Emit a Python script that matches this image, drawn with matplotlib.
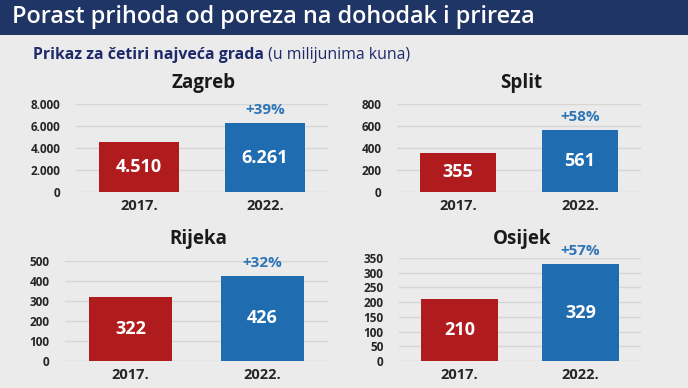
import matplotlib
matplotlib.use("Agg")
import matplotlib.pyplot as plt
from matplotlib.patches import Rectangle
from matplotlib.text import Annotation

plt.rcParams['font.family'] = ['Open Sans', 'DejaVu Sans']

title = "Porast prihoda od poreza na dohodak i prireza"
subtitle_bold = "Prikaz za četiri najveća grada"
subtitle_normal = " (u milijunima kuna)"

years = ["2017.", "2022."]
cities = ["Zagreb", "Split", "Rijeka", "Osijek"]
values_2017 = [4510, 355, 322, 210]
values_2022 = [6261, 561, 426, 329]
value_labels_2017 = ["4.510", "355", "322", "210"]
value_labels_2022 = ["6.261", "561", "426", "329"]
growth_labels = ["+39%", "+58%", "+32%", "+57%"]
zagreb_ticks = [0, 2000, 4000, 6000, 8000]
zagreb_ticklabels = ["0", "2.000", "4.000", "6.000", "8.000"]
split_ticks = [0, 200, 400, 600, 800]
rijeka_ticks = [0, 100, 200, 300, 400, 500]
osijek_ticks = [0, 50, 100, 150, 200, 250, 300, 350]

ticks = [zagreb_ticks, split_ticks, rijeka_ticks, osijek_ticks]
ticklabels = [zagreb_ticklabels, [str(t) for t in split_ticks],
              [str(t) for t in rijeka_ticks], [str(t) for t in osijek_ticks]]

W, H = 688, 388
BG = "#ebebeb"
NAVY = "#1f3566"
SUBNAVY = "#1f2a6b"
RED = "#b01c1e"
BLUE = "#1f6db0"
PCT = "#2e75b6"
TXT = "#262626"
GRID = "#d6d6d6"

fig = plt.figure(figsize=(W / 100, H / 100), dpi=100, facecolor=BG)

# title bar
fig.patches.append(Rectangle((0, 1 - 35 / H), 1, 35 / H, transform=fig.transFigure,
                             facecolor=NAVY, edgecolor="none", zorder=0))
fig.text(12 / W, 1 - 17 / H, title, color="white", fontsize=16.9,
         fontweight="semibold", va="center", ha="left")

t1 = fig.text(33 / W, 1 - 55 / H, subtitle_bold, color=SUBNAVY, fontsize=11.4,
              fontweight="bold", va="center", ha="left")
fig.add_artist(Annotation(subtitle_normal, xy=(1, 0.5), xycoords=t1, va="center",
                          ha="left", fontsize=11.4, color=SUBNAVY,
                          annotation_clip=False))

# axes boxes in pixels: left, right, top, bottom
boxes = [
    (76, 328, 104, 192),
    (397, 641, 104, 192),
    (65, 328, 261, 361),
    (399, 641, 258, 361),
]
title_y = [83, 83, 239, 239]

for i, city in enumerate(cities):
    l, r, t, b = boxes[i]
    ax = fig.add_axes([l / W, 1 - b / H, (r - l) / W, (b - t) / H])
    ax.set_facecolor("none")
    ymax = ticks[i][-1]
    ax.bar([0, 1], [values_2017[i], values_2022[i]], width=0.63,
           color=[RED, BLUE], zorder=3)
    ax.set_xlim(-0.5, 1.5)
    ax.set_ylim(0, ymax)
    ax.set_yticks(ticks[i])
    ax.set_yticklabels(ticklabels[i], fontsize=8.5, fontweight="bold", color=TXT)
    ax.set_xticks([0, 1])
    ax.set_xticklabels(years, fontsize=10.5, fontweight="bold", color=TXT)
    ax.tick_params(axis="y", length=0, pad=11)
    ax.tick_params(axis="x", length=0, pad=5)
    for s in ax.spines.values():
        s.set_visible(False)
    ax.grid(axis="y", color=GRID, linewidth=1, zorder=0)
    ax.set_axisbelow(True)
    for x, v, lab in [(0, values_2017[i], value_labels_2017[i]),
                      (1, values_2022[i], value_labels_2022[i])]:
        ax.text(x, v / 2, lab, color="white", fontsize=13, fontweight="bold",
                ha="center", va="center", zorder=4)
    ax.annotate(growth_labels[i], xy=(1, values_2022[i]), xytext=(0, 9.5),
                textcoords="offset points", ha="center", va="center",
                fontsize=11, fontweight="bold", color=PCT, annotation_clip=False)
    cx = (l + r) / 2 + 2
    fig.text(cx / W, 1 - title_y[i] / H, city, fontsize=13.5, fontweight="bold",
             color="#1a1a1a", ha="center", va="center")

fig.savefig("out.png", dpi=100, facecolor=BG)
